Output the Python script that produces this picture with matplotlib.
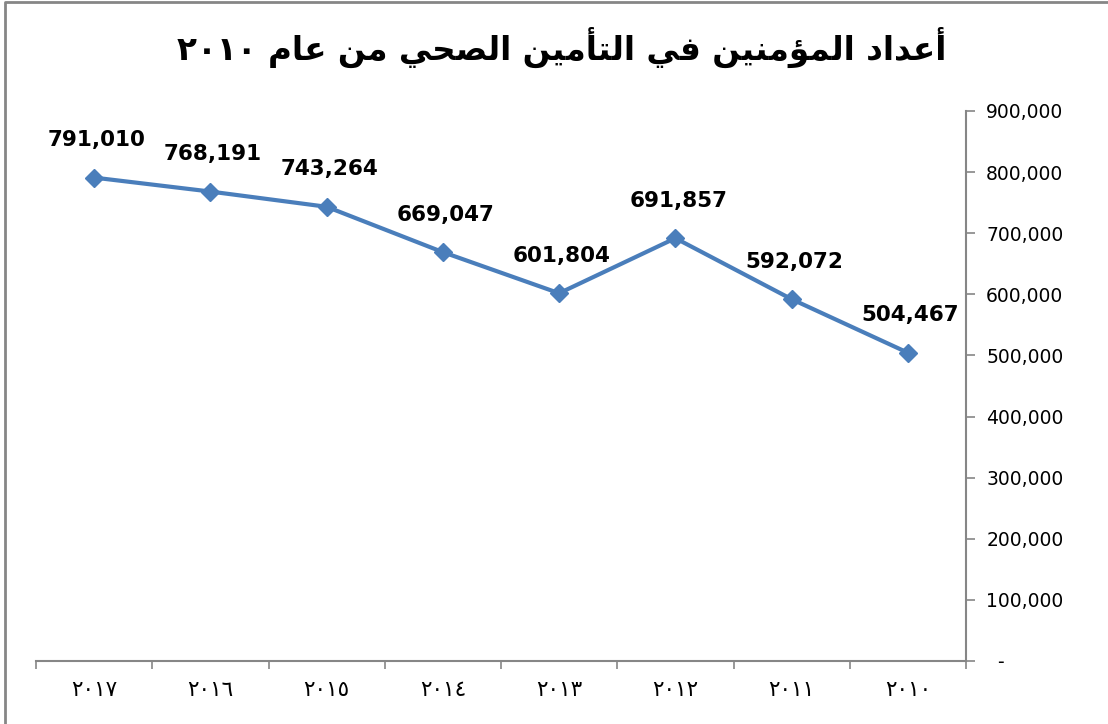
import matplotlib
matplotlib.use("Agg")
import matplotlib.pyplot as plt
from matplotlib.lines import Line2D
from matplotlib.ticker import FixedLocator, FuncFormatter

# data (2017 on the left, as in the source sheet)
years = ["٢٠١٧", "٢٠١٦", "٢٠١٥", "٢٠١٤", "٢٠١٣", "٢٠١٢", "٢٠١١", "٢٠١٠"]
insured = [791010, 768191, 743264, 669047, 601804, 691857, 592072, 504467]
y_ticks = [0, 100000, 200000, 300000, 400000, 500000, 600000, 700000, 800000, 900000]

# title words, in logical order, already in Arabic presentation forms
# (matplotlib does no shaping / bidi, so the glyph forms are picked by hand)
title_words = [
    "\uFE83\uFECB\uFEAA\uFE8D\uFEA9",                  # أعداد
    "\uFE8D\uFEDF\uFEE4\uFE86\uFEE3\uFEE8\uFEF4\uFEE6",  # المؤمنين
    "\uFED3\uFEF2",                                  # في
    "\uFE8D\uFEDF\uFE98\uFE84\uFEE3\uFEF4\uFEE6",        # التأمين
    "\uFE8D\uFEDF\uFEBC\uFEA4\uFEF2",                  # الصحي
    "\uFEE3\uFEE6",                                  # من
    "\uFECB\uFE8E\uFEE1",                            # عام
]
title_year = "٢٠١٠"

BLUE = "#4A7EBB"
GRAY = "#868686"


def visual_title() -> str:
    # right-to-left: reverse word order and the glyphs in each word
    return title_year + " " + " ".join(w[::-1] for w in reversed(title_words))


def main() -> None:
    plt.rcParams["font.family"] = ["DejaVu Sans"]
    fig = plt.figure(figsize=(11.08, 7.24), dpi=100)
    ax = fig.add_axes([36 / 1108, 63 / 724, 930 / 1108, 550 / 724])

    x = list(range(len(years)))
    ax.plot(x, insured, color=BLUE, lw=3, marker="D", ms=9, mfc=BLUE, mec=BLUE, zorder=3)
    for xi, v in zip(x, insured):
        ax.annotate(f"{v:,}", (xi, v), xytext=(2, 27), textcoords="offset points",
                    ha="center", va="center", fontsize=15.5, fontweight="bold", color="black")

    ax.set_xlim(-0.5, len(years) - 0.5)
    ax.set_ylim(0, 900000)

    # category axis: ticks between categories, labels centred under them
    ax.xaxis.set_major_locator(FixedLocator([i - 0.5 for i in range(len(years) + 1)]))
    ax.xaxis.set_major_formatter(FuncFormatter(lambda v, p: ""))
    ax.set_xticks(x, years, minor=True)
    ax.tick_params(axis="x", which="major", direction="out", length=6, width=1.2, color=GRAY)
    ax.tick_params(axis="x", which="minor", length=0, pad=14, labelsize=15.5)

    ax.yaxis.tick_right()
    ax.set_yticks(y_ticks)
    ax.yaxis.set_major_formatter(FuncFormatter(lambda v, p: "  -" if v == 0 else f"{int(v):,}"))
    ax.tick_params(axis="y", direction="out", length=6.5, width=1.2, color=GRAY, pad=8,
                   labelsize=13.5)
    for lab in ax.get_yticklabels():
        lab.set_horizontalalignment("left")

    for side in ("top", "left"):
        ax.spines[side].set_visible(False)
    for side in ("bottom", "right"):
        ax.spines[side].set_color(GRAY)
        ax.spines[side].set_linewidth(1.5)

    fig.text(0.507, 0.935, visual_title(), ha="center", va="center",
             fontsize=23.5, fontweight="bold")

    # chart frame: only its top and left edges fall inside the picture
    top = 1 - 2 / 724
    left = 5 / 1108
    fig.lines.append(Line2D([left, left, 1.0], [0.0, top, top], transform=fig.transFigure,
                            color=GRAY, lw=2))

    fig.savefig("out.png", dpi=100)
    plt.close(fig)


if __name__ == "__main__":
    main()
